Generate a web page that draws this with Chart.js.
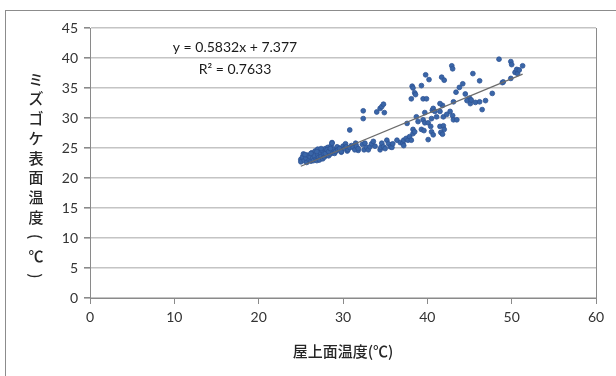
<!DOCTYPE html>
<html>
<head>
<meta charset="utf-8">
<script src="https://cdn.jsdelivr.net/npm/chart.js@4"></script>
<style>
  html, body { margin: 0; padding: 0; background: #fff; }
  #wrap { position: relative; width: 616px; height: 376px; }
</style>
</head>
<body>
<div id="wrap"><canvas id="mossChart" width="616" height="376"></canvas></div>
<script>
// 屋上面温度 (x) / ミズゴケ表面温度 (y)
const roofTemp = [
    25.0, 25.0, 25.2, 25.3, 25.4, 25.6, 25.7, 25.8, 26.0, 26.1, 26.2, 26.3, 26.4, 26.5, 26.6, 26.7,
    26.8, 26.9, 27.0, 27.0, 27.1, 27.2, 27.3, 27.4, 27.5, 27.6, 27.7, 27.8, 27.9, 28.0, 28.1, 28.2,
    28.3, 28.4, 28.5, 28.6, 28.7, 28.8, 28.9, 29.0, 29.2, 29.5, 29.8, 30.0, 30.3, 30.5, 31.0, 31.5,
    31.8, 32.3, 25.5, 26.2, 26.9, 27.4,
    27.9, 28.1, 28.3, 28.5, 28.7, 29.1, 29.3, 29.4, 29.6, 29.8, 30.2, 30.4, 30.6, 30.8, 31.2, 31.4,
    31.6, 31.8, 32.5, 32.6, 32.8, 33.0, 33.2, 33.4, 33.6, 33.8, 34.4, 34.5, 34.6, 34.8, 35.0, 35.2,
    35.4, 35.6, 35.8, 35.9, 36.4, 36.8, 37.1, 37.2, 37.2, 37.5, 37.7, 37.9, 38.1,
    30.8, 32.4, 32.4, 34.0, 34.4, 34.6, 34.8, 34.9,
    37.6, 38.3, 38.3, 38.5, 38.7, 38.9, 39.3, 39.6, 39.5, 39.7, 40.1, 40.4, 40.5, 40.7, 41.5, 41.9,
    42.0, 41.6, 41.8, 40.1, 40.5, 41.1, 41.9, 42.3, 42.7, 43.0, 43.1, 43.5, 40.6, 40.7, 40.9, 39.7,
    41.5, 41.8, 41.5, 43.1,
    38.1, 38.2, 38.3, 38.5, 38.6, 39.3, 39.5, 39.9, 39.8, 40.2, 41.7, 42.0, 42.9, 43.0, 43.4, 43.8,
    44.2, 44.5, 45.0, 44.7, 45.1, 45.7, 46.2, 46.9, 46.5, 45.4, 46.2, 47.7, 48.9, 49.0, 49.9, 50.4,
    50.7, 50.6, 50.9, 51.3, 49.9, 50.0, 48.5, 45.2
];
const mossTemp = [
    23.1, 22.7, 23.5, 24.0, 22.9, 23.3, 22.6, 23.8, 23.0, 23.5, 22.8, 24.2, 23.3, 22.9, 23.7, 24.5,
    23.1, 22.9, 23.9, 24.8, 23.4, 23.0, 24.2, 23.6, 24.6, 23.2, 24.0, 23.5, 24.9, 23.8, 24.3, 25.1,
    23.7, 24.5, 24.0, 25.4, 25.9, 24.2, 24.8, 24.1, 24.6, 25.0, 24.3, 25.3, 25.7, 24.5, 25.4, 25.8,
    24.6, 25.6, 23.9, 24.1, 24.4, 24.9,
    24.1, 24.7, 24.4, 24.9, 25.8, 24.4, 25.2, 24.7, 24.9, 24.4, 24.9, 25.2, 24.7, 25.1, 25.1, 24.7,
    25.3, 24.9, 24.7, 25.8, 25.1, 24.7, 25.2, 25.7, 26.1, 25.3, 24.7, 25.1, 25.8, 25.2, 24.9, 26.3,
    25.7, 25.2, 25.1, 25.7, 26.3, 25.9, 25.8, 26.3, 25.4, 26.6, 26.3, 26.9, 26.3,
    28.0, 31.2, 29.9, 31.0, 31.6, 31.9, 32.3, 30.9,
    29.1, 28.1, 27.4, 27.7, 30.2, 29.4, 28.1, 27.9, 29.7, 29.2, 29.2, 28.6, 27.7, 27.2, 28.6, 28.7,
    28.1, 27.6, 27.3, 26.4, 29.9, 30.2, 30.2, 30.6, 31.1, 30.4, 29.7, 29.7, 31.3, 31.6, 31.1, 30.9,
    31.1, 32.1, 32.4, 32.7,
    33.2, 35.3, 35.0, 34.2, 33.9, 35.4, 33.2, 33.2, 37.2, 36.4, 36.8, 36.3, 38.7, 38.2, 34.3, 35.1,
    35.7, 34.0, 33.3, 32.9, 32.4, 32.6, 32.7, 32.9, 31.4, 37.4, 36.2, 34.1, 35.9, 36.0, 36.6, 37.6,
    37.4, 38.1, 38.0, 38.7, 39.4, 38.9, 39.8, 33.0
];
const xTicks = [0, 10, 20, 30, 40, 50, 60];
const yTicks = [0, 5, 10, 15, 20, 25, 30, 35, 40, 45];
const trendX = [25.0, 51.3];
const trendY = [21.96, 37.30];
const equationLines = ['y = 0.5832x + 7.377', 'R² = 0.7633'];
const xTitle = '屋上面温度(℃)';
// vertical title; brackets are turned a quarter round like in vertical writing
const yTitleChars = ['ミ', 'ズ', 'ゴ', 'ケ', '表', '面', '温', '度', '(', '℃', ')'];
const rotatedChars = ['(', ')'];

const tickFont = { family: 'Lato, "Open Sans", sans-serif', size: 14 };
const cjkFont = '"Noto Sans CJK JP", sans-serif';
const gridGray = '#c4c4c4';
const axisGray = '#8a8a8a';

const points = roofTemp.map((x, i) => ({ x: x, y: mossTemp[i] }));
const trend = trendX.map((x, i) => ({ x: x, y: trendY[i] }));

const decorations = {
    id: 'decorations',
    beforeDraw(chart) {
        const c = chart.ctx;
        c.save();
        c.strokeStyle = '#8c8c8c';
        c.lineWidth = 1;
        c.strokeRect(5.5, 10.5, 700, 500);
        c.restore();
    },
    afterDraw(chart) {
        const c = chart.ctx;
        c.save();
        c.fillStyle = '#1a1a1a';
        c.font = '14px Lato, "Open Sans", sans-serif';
        c.textAlign = 'center';
        c.textBaseline = 'middle';
        c.fillText(equationLines[0], 235, 47);
        c.fillText(equationLines[1], 235, 69);

        c.font = '500 15px ' + cjkFont;
        c.fillStyle = '#262626';
        c.fillText(xTitle, 343, 351);

        yTitleChars.forEach((ch, i) => {
            const cy = 79 + i * 19.7;
            if (rotatedChars.includes(ch)) {
                c.save();
                c.translate(36, cy);
                c.rotate(Math.PI / 2);
                c.fillText(ch, 0, 0);
                c.restore();
            } else {
                c.fillText(ch, 36, cy);
            }
        });
        c.restore();
    }
};

const ctx = document.getElementById('mossChart').getContext('2d');
new Chart(ctx, {
    type: 'scatter',
    data: {
        datasets: [{
            label: 'data',
            data: points,
            backgroundColor: '#3a66a8',
            borderColor: '#2d5394',
            borderWidth: 0.8,
            pointRadius: 2.4,
            order: 1
        }, {
            type: 'line',
            label: 'trend',
            data: trend,
            borderColor: '#6b6b6b',
            borderWidth: 1.3,
            pointRadius: 0,
            fill: false,
            order: 0
        }]
    },
    options: {
        responsive: false,
        animation: false,
        layout: { padding: { left: 0, top: 28, right: 20, bottom: 0 } },
        plugins: {
            legend: { display: false },
            tooltip: { enabled: false }
        },
        scales: {
            x: {
                type: 'linear',
                min: 0,
                max: 60,
                afterBuildTicks: s => { s.ticks = xTicks.map(v => ({ value: v })); },
                afterFit: s => { s.height = 78; },
                grid: {
                    drawOnChartArea: true,
                    color: c => (c.tick && c.tick.value === 60 ? axisGray : 'rgba(0,0,0,0)'),
                    tickColor: axisGray,
                    tickLength: 6,
                    lineWidth: 1
                },
                border: { display: true, color: axisGray, width: 1 },
                ticks: { font: tickFont, color: '#333333', padding: 5, maxRotation: 0 }
            },
            y: {
                type: 'linear',
                min: 0,
                max: 45,
                afterBuildTicks: s => { s.ticks = yTicks.map(v => ({ value: v })); },
                afterFit: s => { s.width = 90; },
                grid: {
                    color: gridGray,
                    lineWidth: 1.6,
                    tickColor: axisGray,
                    tickLength: 6
                },
                border: { display: true, color: axisGray, width: 1 },
                ticks: { font: tickFont, color: '#333333', padding: 6 }
            }
        }
    },
    plugins: [decorations]
});
</script>
</body>
</html>
